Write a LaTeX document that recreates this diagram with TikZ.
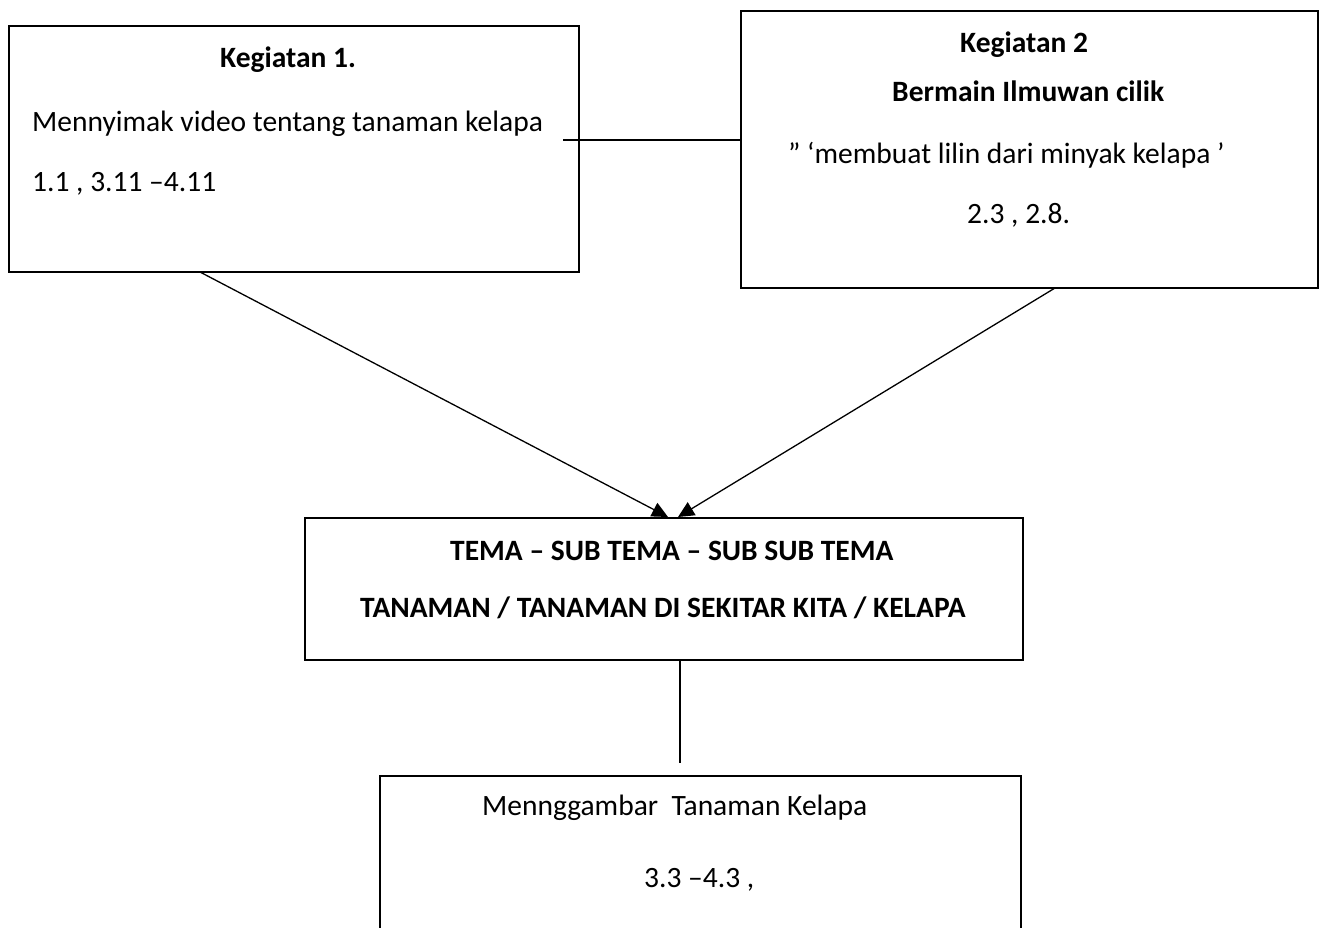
\documentclass[tikz,border=0pt]{standalone}
\usepackage{fontspec}
\setmainfont{Carlito}
\usetikzlibrary{arrows.meta}
\begin{document}
\begin{tikzpicture}[x=1pt,y=-1pt,
  box/.style={draw=black,line width=2pt,inner sep=0pt,fill=none},
  txt/.style={inner sep=0pt,anchor=base west,font=\fontsize{29.5}{35}\selectfont},
  btxt/.style={txt,font=\fontsize{29.5}{35}\selectfont\bfseries},
  conn/.style={draw=black,line width=1.3pt},
  arr/.style={conn,-{Triangle[length=16pt,width=15pt]}}]
\useasboundingbox (0,0) rectangle (1320,928);
\clip (0,0) rectangle (1320,928);
% boxes
\node[box,minimum width=570pt,minimum height=246pt] (b1) at (294,149) {};
\node[box,minimum width=577pt,minimum height=277pt] (b2) at (1029.5,149.5) {};
\node[box,minimum width=718pt,minimum height=142pt] (b3) at (664,589) {};
\node[box,minimum width=641pt,minimum height=220pt] (b4) at (700.5,886) {};
% texts box 1
\node[btxt] (t11) at (220,68) {Kegiatan 1.};
\node[txt] (t12) at (32,132) {Mennyimak video tentang tanaman kelapa};
\node[txt] (t13) at (32,192) {1.1 , 3.11 –4.11};
% texts box 2
\node[btxt] (t21) at (960,53) {Kegiatan 2};
\node[btxt] (t22) at (892,102) {Bermain Ilmuwan cilik};
\node[txt] (t23) at (788,164) {” ‘membuat lilin dari minyak kelapa ’};
\node[txt] (t24) at (967,224) {2.3 , 2.8.};
% texts box 3
\node[btxt] (t31) at (450,560) {TEMA – SUB TEMA – SUB SUB TEMA};
\node[btxt] (t32) at (360,617) {TANAMAN / TANAMAN DI SEKITAR KITA / KELAPA};
% texts box 4
\node[txt] (t41) at (482,815) {Mennggambar\ \ Tanaman Kelapa};
\node[txt] (t42) at (644,887) {3.3 –4.3 ,};
% connector coordinates
\coordinate (h1) at (563,140);
\coordinate (a1s) at (200,272);
\coordinate (a1e) at (668,517);
\coordinate (a2s) at (1055,288);
\coordinate (a2e) at (678,517);
\coordinate (v1s) at (680,660);
\coordinate (v1e) at (680,763);
% connectors
\draw[conn] (h1) -- (h1 -| b2.west);
\draw[arr] (a1s) -- (a1e);
\draw[arr] (a2s) -- (a2e);
\draw[conn] (v1s) -- (v1e);
\end{tikzpicture}
\end{document}
